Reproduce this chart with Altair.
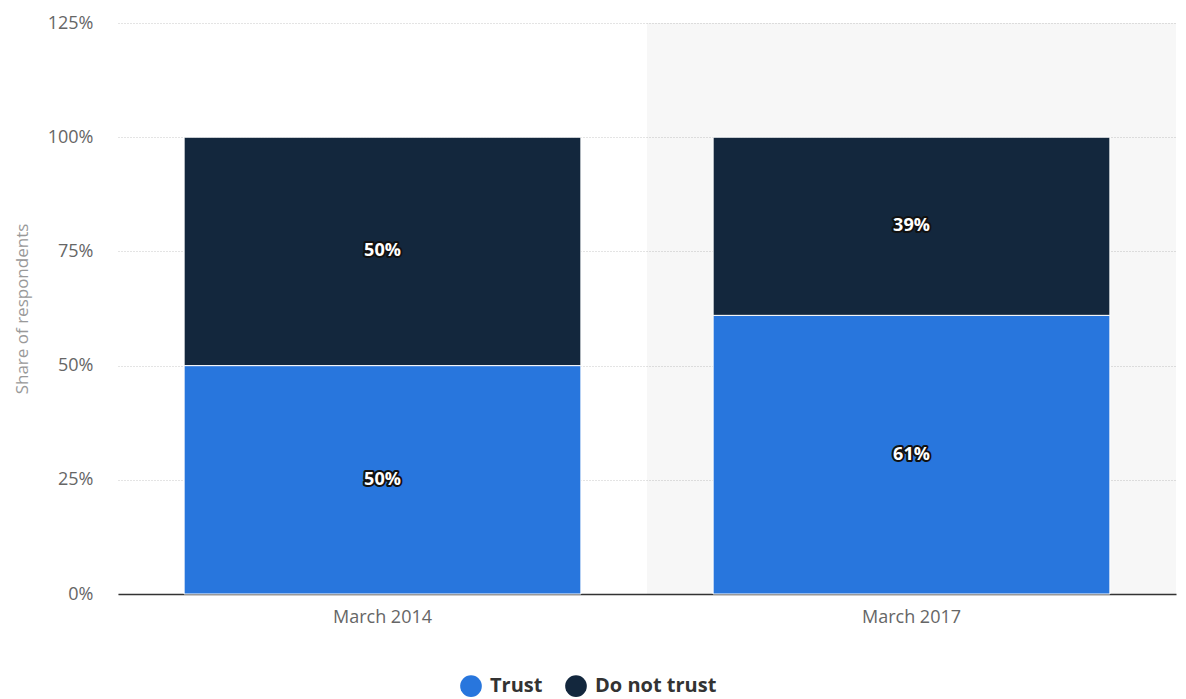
import altair as alt
import pandas as pd

categories = ["March 2014", "March 2017"]
trust = [50, 61]
do_not_trust = [50, 39]
series = ["Trust", "Do not trust"]
colors = ["#2876dd", "#13273d"]
highlight = ["March 2017"]
y_ticks = [0, 25, 50, 75, 100, 125]

rows = []
for i, c in enumerate(categories):
    rows.append({"category": c, "series": "Trust", "value": trust[i], "rank": 0})
    rows.append({"category": c, "series": "Do not trust", "value": do_not_trust[i], "rank": 1})
df = pd.DataFrame(rows)
hl = pd.DataFrame({"category": highlight, "top": [y_ticks[-1]], "bottom": [0]})

FONT = "Open Sans"

x_enc = alt.X("category:N", sort=categories,
              scale=alt.Scale(paddingInner=0, paddingOuter=0),
              axis=alt.Axis(title=None, ticks=False, labelPadding=14, labelFontSize=18,
                            labelColor="#666666", labelFont=FONT, domainColor="#333333",
                            domainWidth=1.5, grid=False, labelAngle=0))
y_scale = alt.Scale(domain=[0, 125], nice=False)
y_axis = alt.Axis(title="Share of respondents", values=y_ticks, labelExpr="datum.value + '%'",
                  ticks=False, domain=False, labelPadding=25, labelFontSize=18,
                  labelColor="#666666", labelFont=FONT, titleFont=FONT, titleFontSize=17,
                  titleFontWeight="normal", titleColor="#999999", titlePadding=16,
                  grid=True, gridColor="#c8c8c8", gridDash=[1, 2], gridWidth=1)

band = alt.Chart(hl).mark_bar(color="#000000", opacity=0.03, width={"band": 1}).encode(
    x=x_enc,
    y=alt.Y("top:Q", scale=y_scale, axis=y_axis),
    y2="bottom:Q",
)

bars = alt.Chart(df).mark_bar(width={"band": 0.75}, stroke="white", strokeWidth=1).encode(
    x=alt.X("category:N", sort=categories),
    y=alt.Y("value:Q", stack="zero", scale=y_scale),
    color=alt.Color("series:N", sort=series,
                    scale=alt.Scale(domain=series, range=colors),
                    legend=alt.Legend(title=None, orient="none", direction="horizontal",
                                      legendX=342, legendY=652, symbolType="circle",
                                      symbolSize=470, symbolStrokeWidth=0,
                                      labelFontSize=20, labelFontWeight="bold",
                                      labelColor="#333333", labelFont=FONT,
                                      columnPadding=22, symbolOffset=0, labelOffset=8)),
    order=alt.Order("rank:Q", sort="ascending"),
)

base_text = alt.Chart(df).transform_stack(
    stack="value", groupby=["category"], sort=[alt.SortField("rank", order="ascending")],
    as_=["y0", "y1"]
).transform_calculate(
    mid="(datum.y0 + datum.y1) / 2",
    label="datum.value + '%'"
)

text_outline = base_text.mark_text(font=FONT, fontSize=18, fontWeight="bold",
                                   stroke="#111111", strokeWidth=4, strokeJoin="round",
                                   color="#111111").encode(
    x=alt.X("category:N", sort=categories),
    y=alt.Y("mid:Q", scale=y_scale),
    text="label:N",
)
text_fill = base_text.mark_text(font=FONT, fontSize=18, fontWeight="bold",
                                color="white").encode(
    x=alt.X("category:N", sort=categories),
    y=alt.Y("mid:Q", scale=y_scale),
    text="label:N",
)

chart = alt.layer(band, bars, text_outline, text_fill).properties(
    width=1058, height=571,
    background="white",
    autosize=alt.AutoSizeParams(type="none"),
    padding={"left": 110, "top": 15, "right": 2, "bottom": 112},
).configure_view(strokeWidth=0, stroke=None)

chart.save("out.html", embed_options={"renderer": "svg", "actions": False})
